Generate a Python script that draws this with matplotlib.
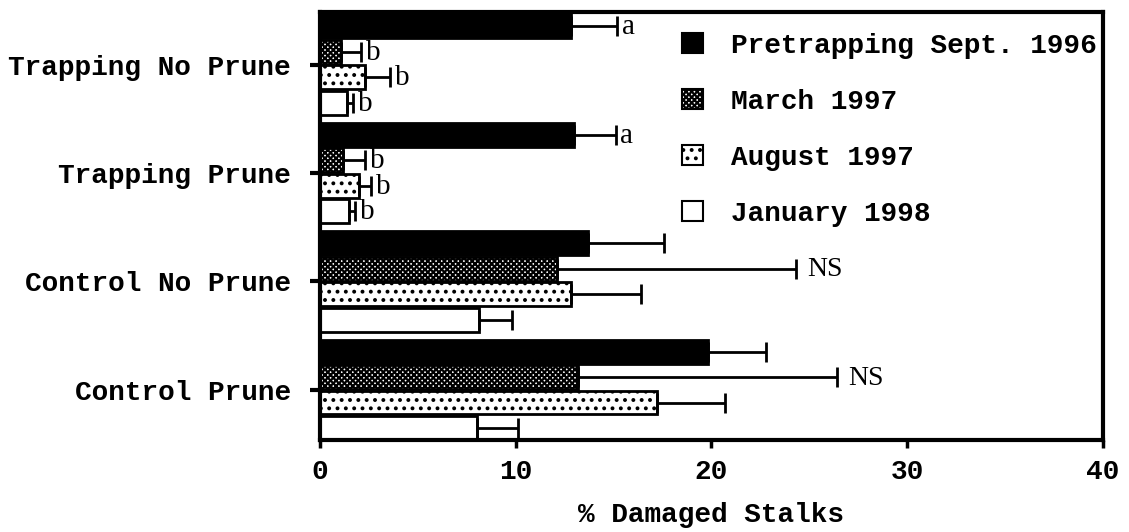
import numpy as np
import matplotlib
matplotlib.use("Agg")
import matplotlib.pyplot as plt
from matplotlib.patches import Patch

plt.rcParams['hatch.linewidth'] = 1.6

groups = ['Trapping No Prune', 'Trapping Prune', 'Control No Prune', 'Control Prune']
series = ['Pretrapping Sept. 1996', 'March 1997', 'August 1997', 'January 1998']

pretrap = [12.8, 13.0, 13.7, 19.8]
pretrap_se = [2.4, 2.1, 3.9, 3.0]
march = [1.1, 1.2, 12.1, 13.2]
march_se = [1.0, 1.1, 12.2, 13.2]
august = [2.3, 2.0, 12.8, 17.2]
august_se = [1.3, 0.6, 3.6, 3.5]
january = [1.4, 1.5, 8.1, 8.0]
january_se = [0.3, 0.3, 1.7, 2.1]

pretrap_lab = ['a', 'a', '', '']
march_lab = ['b', 'b', 'NS', 'NS']
august_lab = ['b', 'b', '', '']
january_lab = ['b', 'b', '', '']

values = [pretrap, march, august, january]
errors = [pretrap_se, march_se, august_se, january_se]
letters = [pretrap_lab, march_lab, august_lab, january_lab]
styles = [dict(facecolor='black', hatch=None),
          dict(facecolor='white', hatch='xxxxxx'),
          dict(facecolor='white', hatch='..'),
          dict(facecolor='white', hatch=None)]

mono = 'Liberation Mono'
fig = plt.figure(figsize=(11.29, 5.32), dpi=100)
ax = fig.add_axes([0.2834, 0.173, 0.6935, 0.804])

y = np.arange(len(groups))
step = 0.235
h = 0.22
for k in range(4):
    pos = y + (k - 1.5) * step
    ax.barh(pos, values[k], height=h, edgecolor='black', linewidth=2,
            **styles[k], zorder=2)
    ax.errorbar(values[k], pos, xerr=[np.zeros(4), errors[k]], fmt='none',
                ecolor='black', elinewidth=2, capsize=7, capthick=2, zorder=3)
    for i in range(4):
        lab = letters[k][i]
        if not lab:
            continue
        end = values[k][i] + errors[k][i]
        if lab == 'NS':
            ax.text(end + 0.6, pos[i] + 0.01, lab, fontsize=20,
                    family='Liberation Serif', va='center', ha='left')
        else:
            ax.text(end + 0.25, pos[i] + 0.01, lab, fontsize=21,
                    family='Liberation Serif', va='center', ha='left')

ax.set_xlim(0, 40)
ax.set_ylim(3 + 1.5 * step + h / 2, -1.5 * step - h / 2 - 0.02)
ax.set_xticks([0, 10, 20, 30, 40])
ax.set_yticks(y)
ax.set_yticklabels(groups)
for lbl in ax.get_xticklabels() + ax.get_yticklabels():
    lbl.set_family(mono)
    lbl.set_fontweight('bold')
    lbl.set_fontsize(20)
ax.tick_params(axis='x', direction='out', length=6, width=2.5, pad=8)
ax.tick_params(axis='y', direction='out', length=7, width=3, pad=14)
for sp in ax.spines.values():
    sp.set_linewidth(3)

ax.set_xlabel('% Damaged Stalks', family=mono, fontweight='bold',
              fontsize=20, labelpad=12)

handles = [Patch(edgecolor='black', linewidth=1.5, **styles[k]) for k in range(4)]
leg = ax.legend(handles, series, loc='upper right', bbox_to_anchor=(1.024, 1.01),
                frameon=False, handlelength=0.75, handleheight=0.75,
                handletextpad=1.0, labelspacing=1.08,
                prop=dict(family=mono, weight='bold', size=20))

fig.savefig('out.png', dpi=100)
